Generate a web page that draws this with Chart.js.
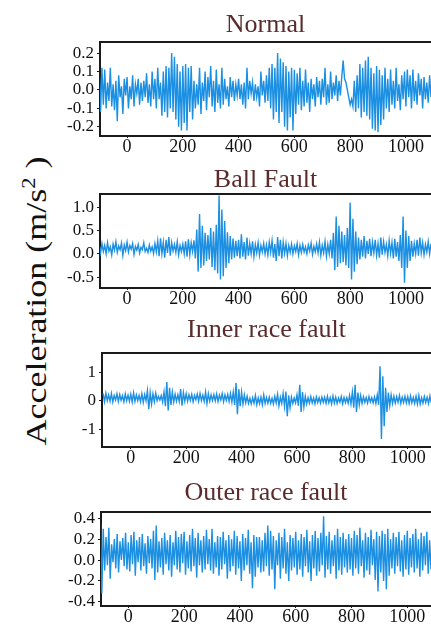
<!DOCTYPE html>
<html>
<head>
<meta charset="utf-8">
<title>Acceleration signals</title>
<script src="https://cdn.jsdelivr.net/npm/chart.js@4.4.1/dist/chart.umd.min.js"></script>
<style>
    html, body { margin: 0; padding: 0; background: #fff; }
    body { width: 431px; height: 626px; position: relative; overflow: hidden; }
    .panel { position: absolute; left: 0; width: 431px; }
    #yTitle {
        position: absolute; left: 35px; top: 301px;
        font: 30px "Liberation Serif", "Times New Roman", serif; color: #111;
        white-space: nowrap;
        transform: translate(-50%, -50%) rotate(-90deg) scaleX(1.2);
    }
    #yTitle sup { font-size: 0.62em; }
</style>
</head>
<body>
<div id="yTitle">Acceleration (m/s<sup>2</sup> )</div>
<div class="panel" id="normalPanel"><canvas></canvas></div>
<div class="panel" id="ballPanel"><canvas></canvas></div>
<div class="panel" id="innerPanel"><canvas></canvas></div>
<div class="panel" id="outerPanel"><canvas></canvas></div>
<script>
// acceleration samples, one every 5 index steps starting at -100
const firstIndex = -100;
const indexStep = 5;

const normalAcc = [
    0.13,-0.12,0.12,-0.08,0.11,-0.10,0.04,-0.06,0.12,-0.09,0.03,-0.11,0.05,-0.17,0.08,-0.04,0.02,-0.13,0.06,-0.03,
    0.07,-0.10,0.02,-0.05,0.08,-0.09,0.03,-0.02,0.06,-0.08,0.04,-0.06,0.05,-0.04,0.09,-0.07,0.03,-0.09,0.10,-0.05,
    0.06,-0.10,0.12,-0.05,0.04,-0.14,0.10,-0.12,0.13,-0.15,0.12,-0.10,0.20,-0.12,0.18,-0.16,0.14,-0.20,0.10,-0.22,
    0.13,-0.18,0.14,-0.22,0.12,-0.12,0.13,-0.16,0.05,-0.10,0.03,-0.08,0.12,-0.13,0.04,-0.06,0.10,-0.11,0.07,-0.04,
    0.13,-0.09,0.05,-0.12,0.11,-0.07,0.03,-0.10,0.12,-0.08,0.06,-0.05,0.02,-0.09,0.07,-0.04,0.05,-0.06,0.03,-0.03,
    0.06,-0.05,0.03,-0.08,0.04,-0.10,0.12,-0.05,0.05,-0.02,0.04,-0.06,0.03,-0.04,0.02,-0.09,0.10,-0.03,0.05,-0.07,
    0.08,-0.06,0.12,-0.10,0.14,-0.16,0.12,-0.12,0.20,-0.18,0.17,-0.12,0.15,-0.20,0.13,-0.22,0.10,-0.15,0.12,-0.22,
    0.11,-0.13,0.09,-0.08,0.12,-0.11,0.05,-0.09,0.11,-0.07,0.04,-0.12,0.06,-0.05,0.03,-0.09,0.07,-0.04,0.05,-0.08,
    0.06,-0.04,0.12,-0.08,0.03,-0.07,0.10,-0.05,0.04,-0.03,0.08,-0.06,0.05,-0.03,0.07,0.16,0.06,0.04,0.00,-0.04,
    -0.08,-0.05,-0.09,0.05,-0.12,0.08,-0.10,0.14,-0.15,0.12,-0.12,0.16,-0.14,0.18,-0.16,0.12,-0.21,0.09,-0.22,0.13,
    -0.23,0.11,-0.19,0.08,-0.16,0.12,-0.10,0.06,-0.12,0.11,-0.08,0.05,-0.10,0.12,-0.06,0.03,-0.11,0.08,-0.05,0.10,
    -0.09,0.11,-0.04,0.08,-0.10,0.11,-0.06,0.05,-0.08,0.09,-0.03,0.06,-0.10,0.07,-0.05,0.04,-0.07,0.08,-0.04,0.02
];

const ballFaultAcc = [
    0.20,0.02,0.22,0.05,0.18,0.00,0.24,0.06,0.15,-0.02,0.21,0.08,0.26,0.03,0.17,0.09,0.23,-0.03,0.19,0.07,
    0.25,0.04,0.18,0.10,0.22,-0.01,0.16,0.08,0.20,0.02,0.14,0.09,0.24,0.05,0.12,0.03,0.19,0.06,0.15,0.01,
    0.22,0.04,0.28,-0.05,0.33,0.00,0.25,-0.08,0.30,0.02,0.36,-0.04,0.24,0.06,0.20,0.03,0.26,-0.02,0.18,0.05,
    0.21,0.00,0.27,-0.06,0.31,-0.02,0.24,0.05,0.29,-0.10,0.52,-0.38,0.85,-0.30,0.60,-0.25,0.45,-0.15,0.40,-0.12,
    0.55,-0.28,0.48,-0.35,0.62,-0.42,1.25,-0.55,0.95,-0.48,0.70,-0.30,0.46,-0.20,0.38,-0.12,0.33,-0.08,0.28,-0.05,
    0.30,-0.10,0.42,-0.06,0.25,-0.12,0.35,-0.04,0.22,0.00,0.27,-0.06,0.20,0.02,0.24,-0.03,0.18,0.04,0.22,0.00,
    0.19,-0.02,0.25,0.03,0.28,-0.08,0.21,-0.15,0.36,-0.05,0.30,-0.10,0.25,0.01,0.22,-0.04,0.18,0.03,0.21,0.00,
    0.17,0.05,0.22,-0.02,0.18,0.03,0.20,0.04,0.15,0.00,0.19,0.06,0.23,-0.01,0.16,0.04,0.21,0.02,0.25,-0.03,
    0.18,0.02,0.26,-0.05,0.20,0.00,0.30,-0.10,0.45,-0.35,0.80,-0.28,0.60,-0.20,0.48,-0.18,0.40,-0.25,0.55,-0.30,
    1.10,-0.55,0.75,-0.38,0.48,-0.22,0.35,-0.12,0.30,-0.06,0.38,-0.10,0.28,0.00,0.32,-0.05,0.25,0.02,0.30,-0.03,
    0.22,-0.08,0.35,-0.02,0.26,0.03,0.20,-0.04,0.28,0.01,0.24,-0.10,0.32,-0.06,0.25,-0.15,0.40,-0.30,0.80,-0.62,
    0.50,-0.30,0.38,-0.15,0.28,-0.06,0.22,0.00,0.30,-0.04,0.35,0.02,0.24,-0.02,0.20,0.04,0.26,0.00,0.22,0.03
];

const innerRaceAcc = [
    0.24,-0.04,0.26,0.00,0.20,-0.02,0.25,-0.05,0.18,0.02,0.24,-0.03,0.21,0.01,0.17,-0.04,0.23,0.00,0.19,-0.02,
    0.22,-0.05,0.27,-0.03,0.20,0.00,0.18,-0.04,0.24,-0.06,0.21,0.00,0.35,-0.30,0.28,-0.12,0.24,-0.04,0.26,0.00,
    0.15,0.02,0.18,-0.05,0.30,-0.20,0.65,-0.35,0.45,-0.15,0.30,-0.05,0.22,-0.02,0.20,-0.03,0.40,-0.18,0.28,-0.02,
    0.24,-0.02,0.20,0.01,0.22,-0.04,0.18,0.03,0.23,-0.02,0.25,0.00,0.19,-0.03,0.30,-0.10,0.24,-0.02,0.20,0.00,
    0.21,-0.01,0.23,-0.03,0.19,0.02,0.24,-0.04,0.20,0.01,0.22,-0.03,0.25,-0.05,0.30,-0.15,0.62,-0.48,0.40,-0.20,
    0.30,-0.12,0.20,-0.08,0.15,-0.10,0.08,-0.12,0.10,-0.09,0.18,-0.14,0.09,-0.11,0.12,-0.15,0.20,-0.10,0.11,-0.09,
    0.12,-0.10,0.08,-0.12,0.15,-0.08,0.22,-0.18,0.12,-0.10,0.25,-0.20,0.32,-0.55,0.18,-0.25,0.12,-0.10,0.09,-0.08,
    0.20,-0.18,0.55,-0.40,0.30,-0.22,0.15,-0.12,0.10,-0.09,0.14,-0.08,0.09,-0.11,0.13,-0.07,0.10,-0.09,0.12,-0.06,
    0.12,-0.10,0.15,-0.08,0.10,-0.12,0.16,-0.09,0.12,-0.10,0.09,-0.06,0.14,-0.11,0.11,-0.07,0.10,-0.09,0.18,-0.12,
    0.30,-0.25,0.55,-0.40,0.28,-0.15,0.18,-0.10,0.13,-0.06,0.11,-0.09,0.14,-0.05,0.10,-0.08,0.13,-0.10,0.20,-0.15,
    1.20,-1.35,0.85,-0.90,0.45,-0.40,0.28,-0.18,0.20,-0.10,0.15,-0.09,0.14,-0.06,0.18,-0.10,0.12,-0.07,0.15,-0.08,
    0.14,-0.10,0.16,-0.08,0.11,-0.10,0.15,-0.12,0.18,-0.12,0.10,-0.09,0.14,-0.07,0.12,-0.10,0.16,-0.08,0.11,-0.09
];

const outerRaceAcc = [
    0.35,-0.32,0.30,-0.10,0.22,-0.05,0.31,-0.18,0.15,-0.02,0.20,-0.08,0.25,-0.12,0.18,0.00,0.21,-0.06,0.26,-0.09,
    0.17,-0.11,0.24,-0.04,0.27,-0.15,0.19,-0.02,0.22,-0.10,0.25,-0.06,0.16,-0.13,0.23,-0.03,0.20,-0.08,0.28,-0.19,
    0.33,-0.12,0.18,-0.07,0.21,-0.14,0.26,-0.04,0.19,-0.10,0.24,-0.16,0.17,-0.05,0.28,-0.09,0.22,-0.12,0.25,-0.03,
    0.27,-0.14,0.18,-0.08,0.24,-0.11,0.30,-0.06,0.21,-0.17,0.26,-0.05,0.19,-0.12,0.23,-0.09,0.29,-0.04,0.20,-0.10,
    0.30,-0.13,0.17,-0.07,0.23,-0.15,0.22,-0.09,0.27,-0.04,0.19,-0.18,0.24,-0.11,0.20,-0.06,0.28,-0.14,0.23,-0.08,
    0.18,-0.20,0.25,-0.10,0.21,-0.05,0.29,-0.13,0.17,-0.27,0.24,-0.16,0.22,-0.07,0.22,-0.12,0.19,-0.11,0.26,-0.06,
    0.33,-0.15,0.28,-0.09,0.23,-0.28,0.19,-0.05,0.26,-0.18,0.22,-0.08,0.30,-0.13,0.17,-0.20,0.24,-0.10,0.21,-0.07,
    0.27,-0.14,0.19,-0.09,0.25,-0.16,0.22,-0.06,0.29,-0.12,0.18,-0.20,0.24,-0.08,0.28,-0.15,0.21,-0.11,0.26,-0.05,
    0.42,-0.17,0.23,-0.09,0.27,-0.13,0.19,-0.06,0.24,-0.18,0.30,-0.10,0.22,-0.14,0.26,-0.07,0.20,-0.12,0.25,-0.09,
    0.21,-0.15,0.28,-0.08,0.24,-0.13,0.31,-0.06,0.19,-0.17,0.26,-0.10,0.22,-0.14,0.29,-0.05,0.20,-0.19,0.27,-0.30,
    0.23,-0.12,0.28,-0.20,0.25,-0.28,0.30,-0.15,0.20,-0.08,0.26,-0.13,0.22,-0.06,0.27,-0.11,0.19,-0.16,0.24,-0.09,
    0.28,-0.14,0.21,-0.07,0.25,-0.12,0.30,-0.08,0.20,-0.16,0.26,-0.10,0.23,-0.05,0.27,-0.13,0.19,-0.09,0.24,-0.06
];

// tick values
const indexTicks = [0, 200, 400, 600, 800, 1000];
const normalTicks = [-0.2, -0.1, 0, 0.1, 0.2];
const ballTicks = [-0.5, 0, 0.5, 1.0];
const innerTicks = [-1, 0, 1];
const outerTicks = [-0.4, -0.2, 0, 0.2, 0.4];

const serif = "'Liberation Serif', 'Times New Roman', serif";
const lineColor = '#1b8fe2';
const frameColor = '#1a1a1a';
const titleColor = '#5a2b2b';

function makePanel(id, title, values, yTicks, digits, box) {
    const holder = document.getElementById(id);
    const top = box.areaTop - 40;
    holder.style.top = top + 'px';
    holder.style.height = (box.areaBottom + 24 - top) + 'px';

    const points = values.map(function (v, i) {
        return { x: firstIndex + i * indexStep, y: v };
    });
    const frame = { display: true, color: frameColor, width: 2 };

    new Chart(holder.querySelector('canvas'), {
        type: 'line',
        data: {
            datasets: [{
                data: points,
                borderColor: lineColor,
                borderWidth: 1.4,
                pointRadius: 0,
                tension: 0
            }]
        },
        options: {
            responsive: true,
            maintainAspectRatio: false,
            animation: false,
            layout: { padding: 0 },
            plugins: {
                legend: { display: false },
                tooltip: { enabled: false }
            },
            scales: {
                x: {
                    type: 'linear',
                    position: 'bottom',
                    min: box.xMin,
                    max: box.xMax,
                    afterBuildTicks: function (s) { s.ticks = indexTicks.map(function (v) { return { value: v }; }); },
                    afterFit: function (s) { s.height = 24; },
                    ticks: {
                        autoSkip: false,
                        maxRotation: 0,
                        padding: 0,
                        color: '#111',
                        font: { family: serif, size: 18, lineHeight: 1 },
                        callback: function (v) { return String(v); }
                    },
                    grid: { display: true, drawOnChartArea: false, tickLength: 2, color: frameColor },
                    border: frame
                },
                top: {
                    type: 'linear',
                    position: 'top',
                    min: box.xMin,
                    max: box.xMax,
                    afterFit: function (s) { s.height = 40; },
                    ticks: { display: false },
                    grid: { display: false },
                    border: frame,
                    title: {
                        display: true,
                        text: title,
                        color: titleColor,
                        font: { family: serif, size: 26, lineHeight: 1 },
                        padding: { top: box.titleY - top - 11, bottom: 0 }
                    }
                },
                y: {
                    min: box.yMin,
                    max: box.yMax,
                    afterBuildTicks: function (s) { s.ticks = yTicks.map(function (v) { return { value: v }; }); },
                    afterFit: function (s) { s.width = box.areaLeft; },
                    ticks: {
                        autoSkip: false,
                        padding: 3,
                        color: '#111',
                        font: { family: serif, size: 17, lineHeight: 1 },
                        callback: function (v) { return v.toFixed(digits); }
                    },
                    grid: { display: true, drawOnChartArea: false, tickLength: 3, color: frameColor },
                    border: frame
                }
            }
        }
    });
}

makePanel('normalPanel', 'Normal', normalAcc, normalTicks, 1,
    { titleY: 23, areaTop: 42, areaBottom: 136, areaLeft: 100, xMin: -97, xMax: 1090, yMin: -0.25, yMax: 0.26 });
makePanel('ballPanel', 'Ball Fault', ballFaultAcc, ballTicks, 1,
    { titleY: 178, areaTop: 194, areaBottom: 288, areaLeft: 100, xMin: -97, xMax: 1090, yMin: -0.73, yMax: 1.28 });
makePanel('innerPanel', 'Inner race fault', innerRaceAcc, innerTicks, 0,
    { titleY: 328, areaTop: 353, areaBottom: 447, areaLeft: 102, xMin: -104, xMax: 1084, yMin: -1.63, yMax: 1.67 });
makePanel('outerPanel', 'Outer race fault', outerRaceAcc, outerTicks, 1,
    { titleY: 491, areaTop: 512, areaBottom: 606, areaLeft: 101, xMin: -98, xMax: 1085, yMin: -0.44, yMax: 0.46 });
</script>
</body>
</html>
